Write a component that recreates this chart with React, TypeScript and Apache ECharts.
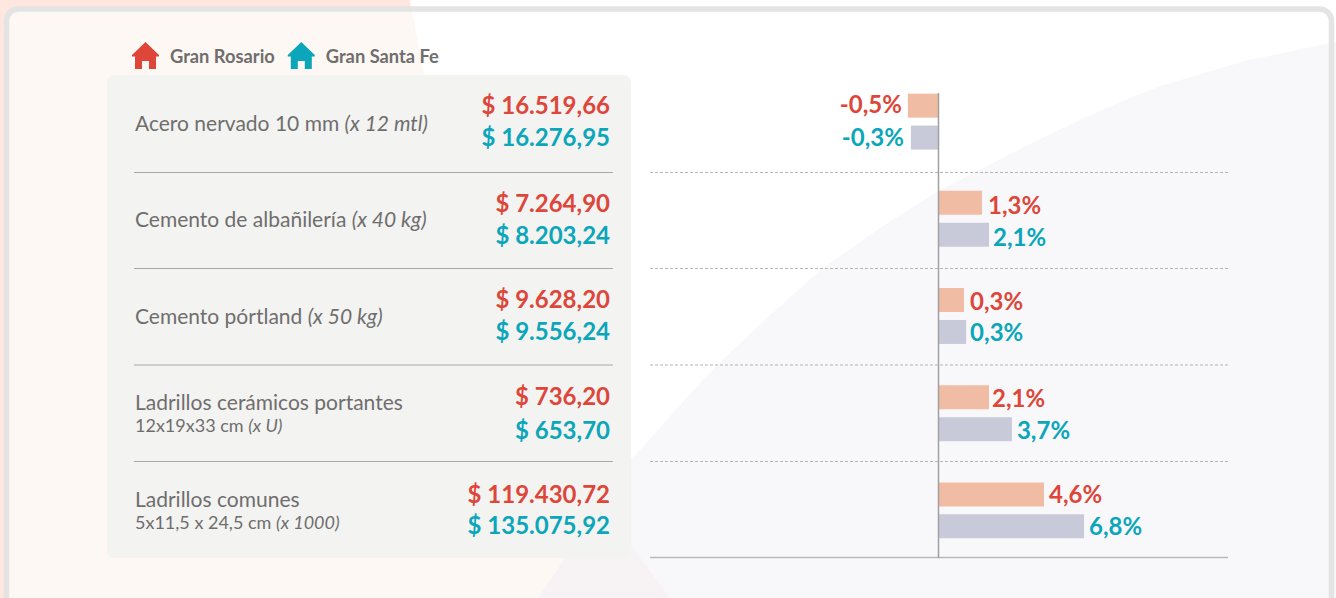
import React, { useEffect, useRef } from "react";
import * as echarts from "echarts";

const categories = ["Acero nervado 10 mm", "Cemento de albañilería", "Cemento pórtland", "Ladrillos cerámicos portantes", "Ladrillos comunes"];
const sizeNotes = ["", "", "", "12x19x33 cm", "5x11,5 x 24,5 cm"];
const unitNotes = ["(x 12 mtl)", "(x 40 kg)", "(x 50 kg)", "(x U)", "(x 1000)"];
const seriesNames = ["Gran Rosario", "Gran Santa Fe"];
const rosarioPrices = ["$ 16.519,66", "$ 7.264,90", "$ 9.628,20", "$ 736,20", "$ 119.430,72"];
const santaFePrices = ["$ 16.276,95", "$ 8.203,24", "$ 9.556,24", "$ 653,70", "$ 135.075,92"];
const rosarioLabels = ["-0,5%", "1,3%", "0,3%", "2,1%", "4,6%"];
const santaFeLabels = ["-0,3%", "2,1%", "0,3%", "3,7%", "6,8%"];
// The reference's bars are not proportional to their printed labels: these are the lengths as drawn.
const rosarioBarLengths = [-1.43, 2.03, 1.19, 2.36, 4.93];
const santaFeBarLengths = [-1.29, 2.36, 1.29, 3.43, 6.8];

const RED = "#dd4639";
const TEAL = "#0ba6ba";
const GREY_TEXT = "#6f6e6d";
const FONT = "Lato";
const HOUSE = "path://M13.5 0L27 13V14.5H24V27H17V19H10V27H3V14.5H0V13Z";

const nameY = [122, 218, 315, 401, 498];
const noteY = [0, 0, 0, 425, 522];
const rosarioY = [104, 202, 298, 395, 493];
const santaFeY = [136, 234, 330, 429, 524];
const rowLineY = [172.5, 268.5, 365, 461.5];
const rosarioLabelOffsets = [[-1, -2], [1, 2], [1, 0], [-2, 0], [0, -1]];
const santaFeLabelOffsets = [[-2, -1], [-1, 2], [-1, 0], [0, 0], [0, -1]];

const pts = (a: number[][]) => ({ points: a });

function buildGraphics() {
  const els: any[] = [
    { type: "rect", z: -10, shape: { x: 0, y: 0, width: 1336, height: 598 }, style: { fill: "#ffffff" } },
    { type: "polygon", z: -10, shape: pts([[0, 0], [410, 0], [424, 75], [631, 545], [670, 598], [0, 598]]), style: { fill: "#fde7de" } },
    { type: "rect", z: -9, shape: { x: 6.5, y: 9, width: 1325, height: 620, r: 12 }, style: { fill: "#fef8f5" } },
    { type: "polygon", z: -8, shape: pts([[410, 0], [1336, 0], [1336, 598], [670, 598], [631, 545], [424, 75]]), style: { fill: "#ffffff" } },
    {
      type: "polygon", z: -7,
      shape: pts([[538, 598], [565, 558], [630, 460], [640, 450], [680, 405], [717, 365], [770, 315], [823, 268], [880, 228], [938, 191], [1030, 144], [1080, 120], [1125, 100], [1160, 86], [1245, 61], [1330, 43], [1336, 42], [1336, 598]]),
      style: { fill: "rgba(232,232,242,0.3)" },
    },
    { type: "rect", z: -6, shape: { x: 6.5, y: 9, width: 1325, height: 620, r: 12 }, style: { fill: "none", stroke: "#e4e4e4", lineWidth: 5.5 } },
    { type: "rect", z: -5, shape: { x: 107, y: 75, width: 524, height: 483, r: 7 }, style: { fill: "#f3f3f2" } },
    { type: "line", z: -4, shape: { x1: 650, y1: 557.5, x2: 1228, y2: 557.5 }, style: { stroke: "#b8b8b8", lineWidth: 1.5 } },
    { type: "line", z: 20, shape: { x1: 938.5, y1: 93, x2: 938.5, y2: 558 }, style: { stroke: "#a0a0a0", lineWidth: 1.5 } },
  ];
  rowLineY.forEach((y) => {
    els.push({ type: "line", z: -4, shape: { x1: 134, y1: y, x2: 613, y2: y }, style: { stroke: "#a8a8a7", lineWidth: 1 } });
    els.push({ type: "line", z: -4, shape: { x1: 650, y1: y, x2: 1228, y2: y }, style: { stroke: "#b5b5b5", lineWidth: 1, lineDash: [3, 2] } });
  });
  categories.forEach((name, i) => {
    els.push({
      type: "text", z: 5, x: 135, y: nameY[i],
      style: {
        text: sizeNotes[i] ? name : `{n|${name}} {i|${unitNotes[i]}}`,
        fontFamily: FONT, fontSize: 21, fill: GREY_TEXT, verticalAlign: "middle", align: "left",
        rich: {
          n: { fontFamily: FONT, fontSize: 21, fill: GREY_TEXT, color: GREY_TEXT },
          i: { fontFamily: FONT, fontSize: 21, fontStyle: "italic", fill: GREY_TEXT, color: GREY_TEXT },
        },
      },
    });
    if (sizeNotes[i]) {
      els.push({
        type: "text", z: 5, x: 135, y: noteY[i],
        style: {
          text: `{n|${sizeNotes[i]}} {i|${unitNotes[i]}}`,
          fontFamily: FONT, fontSize: 18, fill: GREY_TEXT, verticalAlign: "middle", align: "left",
          rich: {
            n: { fontFamily: FONT, fontSize: 18, fill: GREY_TEXT, color: GREY_TEXT },
            i: { fontFamily: FONT, fontSize: 18, fontStyle: "italic", fill: GREY_TEXT, color: GREY_TEXT },
          },
        },
      });
    }
    els.push({ type: "text", z: 5, x: 610, y: rosarioY[i], style: { text: rosarioPrices[i], fontFamily: FONT, fontWeight: "bold", fontSize: 24, fill: RED, align: "right", verticalAlign: "middle" } });
    els.push({ type: "text", z: 5, x: 610, y: santaFeY[i], style: { text: santaFePrices[i], fontFamily: FONT, fontWeight: "bold", fontSize: 24, fill: TEAL, align: "right", verticalAlign: "middle" } });
  });
  return els;
}

function barSeries(name: string, values: number[], labels: string[], offsets: number[][], barColor: string, textColor: string) {
  return {
    name,
    type: "bar",
    barWidth: 24,
    barGap: "33%",
    z: 3,
    itemStyle: { color: barColor },
    label: {
      show: true,
      distance: 5,
      color: textColor,
      fontFamily: FONT,
      fontWeight: "bold",
      fontSize: 24,
      formatter: (p: any) => labels[p.dataIndex],
    },
    data: values.map((v, i) => ({ value: v, label: { position: v < 0 ? "left" : "right", offset: offsets[i] } })),
  };
}

export default function App() {
  const ref = useRef<HTMLDivElement>(null);
  useEffect(() => {
    document.body.style.margin = "0";
    const chart = echarts.init(ref.current!, null, { renderer: "svg" });
    chart.setOption({
      animation: false,
      grid: { left: 649.5, width: 578, top: 73, height: 486 },
      legend: {
        left: 127,
        top: 37,
        itemWidth: 27,
        itemHeight: 27,
        itemGap: 13,
        selectedMode: false,
        textStyle: { fontFamily: FONT, fontWeight: "bold", fontSize: 18.3, color: GREY_TEXT, padding: [5, 0, 0, 6] },
        data: [
          { name: seriesNames[0], icon: HOUSE, itemStyle: { color: RED } },
          { name: seriesNames[1], icon: HOUSE, itemStyle: { color: TEAL } },
        ],
      },
      xAxis: { type: "value", min: -13.5, max: 13.5, show: false },
      yAxis: { type: "category", inverse: true, data: categories, show: false },
      series: [
        barSeries(seriesNames[0], rosarioBarLengths, rosarioLabels, rosarioLabelOffsets, "#f0bca3", RED),
        barSeries(seriesNames[1], santaFeBarLengths, santaFeLabels, santaFeLabelOffsets, "#c8cad9", TEAL),
      ],
      graphic: { elements: buildGraphics() },
    });
    return () => chart.dispose();
  }, []);
  return <div ref={ref} style={{ width: 1336, height: 598 }} />;
}
